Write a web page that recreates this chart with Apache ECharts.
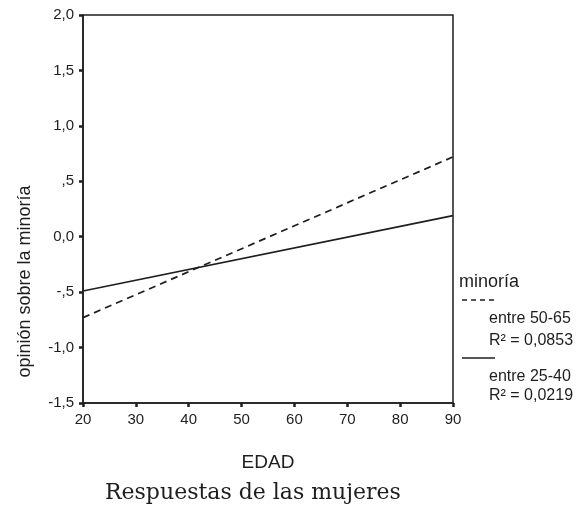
<!DOCTYPE html>
<html>
<head>
<meta charset="utf-8">
<script src="https://cdn.jsdelivr.net/npm/echarts@6/dist/echarts.min.js"></script>
<style>
  html, body { margin: 0; padding: 0; background: #fff; }
  #chart { width: 587px; height: 515px; }
</style>
</head>
<body>
<div id="chart"></div>
<script>
// Fitted regression lines of opinion on age, by minority group
const edadRange = [20, 90];
const lineaMayores = [-0.73, 0.72];   // entre 50-65, R² = 0,0853
const lineaJovenes = [-0.49, 0.19];   // entre 25-40, R² = 0,0219
const yTickLabels = { '2': '2,0', '1.5': '1,5', '1': '1,0', '0.5': ',5', '0': '0,0', '-0.5': '-,5', '-1': '-1,0', '-1.5': '-1,5' };
const xTickLabels = ['20', '30', '40', '50', '60', '70', '80', '90'];
const legendTitle = 'minoría';
const legendItems = [
  { grupo: 'entre 50-65', r2: 'R² = 0,0853' },
  { grupo: 'entre 25-40', r2: 'R² = 0,0219' }
];

const ink = '#1e1e1e';
const sans = 'Liberation Sans, Arial, sans-serif';

const chart = echarts.init(document.getElementById('chart'), null, { renderer: 'canvas' });

function pairs(vals) {
  return edadRange.map((x, i) => [x, vals[i]]);
}

chart.setOption({
  animation: false,
  backgroundColor: '#fff',
  grid: {
    left: 83, right: 134, top: 15, bottom: 112,
    show: true, borderColor: ink, borderWidth: 1.5, backgroundColor: 'transparent'
  },
  xAxis: {
    type: 'value', min: 20, max: 90, interval: 10,
    name: 'EDAD', nameLocation: 'middle', nameGap: 50,
    nameTextStyle: { fontFamily: sans, fontSize: 19, color: ink },
    axisLine: { show: true, onZero: false, lineStyle: { color: ink, width: 1.5 } },
    axisTick: { show: true, length: 4, lineStyle: { color: ink, width: 2.5 } },
    axisLabel: {
      margin: 9, fontFamily: sans, fontSize: 15, color: ink,
      formatter: v => xTickLabels[Math.round((v - 20) / 10)]
    },
    splitLine: { show: false }
  },
  yAxis: {
    type: 'value', min: -1.5, max: 2, interval: 0.5,
    name: 'opinión sobre la minoría', nameLocation: 'middle', nameGap: 49, nameRotate: 90,
    nameTextStyle: { fontFamily: sans, fontSize: 18, color: ink, padding: [0, 0, 0, -145] },
    axisLine: { show: true, onZero: false, lineStyle: { color: ink, width: 1.5 } },
    axisTick: { show: true, length: 4, lineStyle: { color: ink, width: 2.5 } },
    axisLabel: {
      margin: 9, fontFamily: sans, fontSize: 15, color: ink,
      formatter: v => yTickLabels[String(Math.round(v * 10) / 10)]
    },
    splitLine: { show: false }
  },
  series: [
    {
      name: 'entre 50-65', type: 'line', data: pairs(lineaMayores),
      symbol: 'none', silent: true,
      lineStyle: { color: ink, width: 1.7, type: [7, 5] }
    },
    {
      name: 'entre 25-40', type: 'line', data: pairs(lineaJovenes),
      symbol: 'none', silent: true,
      lineStyle: { color: ink, width: 1.7, type: 'solid' }
    }
  ],
  graphic: [
    { type: 'text', left: 459, top: 273, style: { text: legendTitle, font: '18px ' + sans, fill: ink } },
    { type: 'line', shape: { x1: 462, y1: 300, x2: 494, y2: 300 }, style: { stroke: ink, lineWidth: 1.5, lineDash: [5, 4] } },
    { type: 'text', left: 489, top: 311, style: { text: legendItems[0].grupo, font: '16px ' + sans, fill: ink } },
    { type: 'text', left: 489, top: 333, style: { text: legendItems[0].r2, font: '16px ' + sans, fill: ink } },
    { type: 'line', shape: { x1: 462, y1: 358, x2: 495, y2: 358 }, style: { stroke: ink, lineWidth: 1.5 } },
    { type: 'text', left: 489, top: 369, style: { text: legendItems[1].grupo, font: '16px ' + sans, fill: ink } },
    { type: 'text', left: 489, top: 388, style: { text: legendItems[1].r2, font: '16px ' + sans, fill: ink } },
    { type: 'text', left: 105, top: 482, style: { text: 'Respuestas de las mujeres', font: '22px "DejaVu Serif", "Liberation Serif", serif', fill: ink } }
  ]
});
</script>
</body>
</html>
